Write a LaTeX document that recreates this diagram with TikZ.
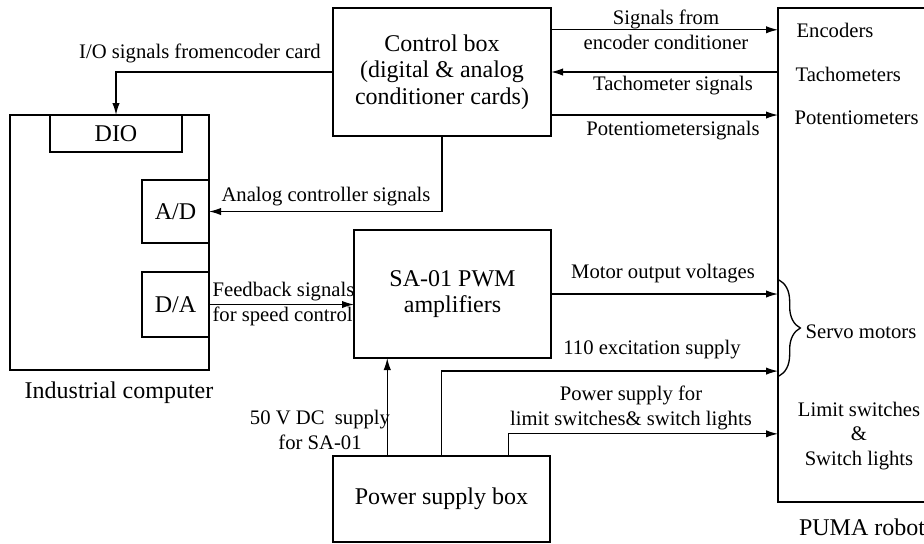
\documentclass[tikz,border=0pt]{standalone}
\usepackage{fontspec}
\setmainfont{Liberation Serif}
\usetikzlibrary{arrows.meta,calc,decorations.pathreplacing}

\newcommand{\boxfont}{\fontsize{18}{20}\selectfont}
\newcommand{\lblfont}{\fontsize{15.5}{18.5}\selectfont}

\tikzset{every picture/.style={line width=0.9pt}}
\tikzset{
  blk/.style={draw, inner sep=0pt, outer sep=0pt, anchor=north west, align=center, font=\boxfont},
  lbl/.style={inner sep=0.75pt, align=center, font=\lblfont},
  sig/.style={-{Latex[length=9pt,width=5.5pt]}},
}

\begin{document}
\begin{tikzpicture}[x=0.75pt,y=0.75pt,yscale=-1,xscale=1]
\useasboundingbox (0,0) rectangle (924,543);

%Shape: Rectangle [id:pc]
\node [blk, minimum width=149.25pt, minimum height=191.25pt] (pc) at (10,115) {};
%Shape: Rectangle [id:dio]
\node [blk, minimum width=99pt, minimum height=27.75pt] (dio) at (50,115) {DIO};
%Shape: Rectangle [id:ad]
\node [blk, minimum width=50.25pt, minimum height=47.25pt] (ad) at (142,180) {A/D};
%Shape: Rectangle [id:da]
\node [blk, minimum width=50.25pt, minimum height=48.75pt] (da) at (142,272) {D/A};
%Shape: Rectangle [id:ctrl]
\node [blk, minimum width=163.5pt, minimum height=96pt] (ctrl) at (333,8) {Control box\\(digital \& analog\\conditioner cards)};
%Shape: Rectangle [id:amp]
\node [blk, minimum width=147.75pt, minimum height=96pt] (amp) at (354,230) {SA-01 PWM\\amplifiers};
%Shape: Rectangle [id:pwr]
\node [blk, minimum width=162.75pt, minimum height=64.5pt] (pwr) at (333,456) {Power supply box};
%Shape: Rectangle [id:robot]
\node [blk, minimum width=127.5pt, minimum height=370.5pt] (robot) at (778,8) {};

% end points on the box sides
\coordinate (encOut) at ($(ctrl.north east)!0.17!(ctrl.south east)$);
\coordinate (potOut) at ($(ctrl.north east)!0.836!(ctrl.south east)$);
\coordinate (dcOut) at ($(pwr.north west)!0.25!(pwr.north east)$);
\coordinate (limOut) at ($(pwr.north west)!0.81!(pwr.north east)$);
\coordinate (excIn) at ($(robot.north west)!0.735!(robot.south west)$);
\coordinate (limIn) at ($(robot.north west)!0.862!(robot.south west)$);

%Straight Lines
\draw [sig] (ctrl.west) -| (dio.north);
\draw [sig] (ctrl.south) |- (ad.east);
\draw [sig] (da.east) -- (da.east -| amp.west);
\draw [sig] (encOut) -- (encOut -| robot.west);
\draw [sig] (ctrl.east -| robot.west) -- (ctrl.east);
\draw [sig] (potOut) -- (potOut -| robot.west);
\draw [sig] (amp.east) -- (amp.east -| robot.west);
\draw [sig] (dcOut) -- (dcOut |- amp.south);
\draw [sig] (pwr.north) |- (excIn);
\draw [sig] (limOut) |- (limIn);

%Curve Lines (brace)
\draw [line width=1pt, decorate, decoration={brace, amplitude=16pt}] (779,280) -- (779,376);

% Text Node
\node [font=\boxfont] (pcname) at (119,393) {Industrial computer};
% Text Node
\node [font=\boxfont] (robotname) at (862,527) {PUMA robot};
% Text Node
\node [lbl] (iolbl) at (200,53) {I/O signals fromencoder card};
% Text Node
\node [lbl] (anlbl) at (326,197) {Analog controller signals};
% Text Node
\node [lbl, align=left, anchor=west] (fblbl) at (211,304) {Feedback signals\\for speed control};
% Text Node
\node [lbl] (enclbl) at (666,30) {Signals from\\encoder conditioner};
% Text Node
\node [lbl] (tachlbl) at (673,86) {Tachometer signals};
% Text Node
\node [lbl] (potlbl) at (673,131) {Potentiometersignals};
% Text Node
\node [lbl] (motlbl) at (663,274) {Motor output voltages};
% Text Node
\node [lbl] (exclbl) at (652,350) {110 excitation supply};
% Text Node
\node [lbl] (limlbl) at (631,408) {Power supply for\\limit switches\& switch lights};
% Text Node
\node [lbl] (dclbl) at (320,430) {50 V DC\ \ supply\\for SA-01};
% Text Node
\node [lbl, anchor=west] (encname) at (795,30) {Encoders};
% Text Node
\node [lbl, anchor=west] (tachname) at (794,74) {Tachometers};
% Text Node
\node [lbl, anchor=west] (potname) at (793,118) {Potentiometers};
% Text Node
\node [lbl, anchor=west] (servoname) at (804,332) {Servo motors};
% Text Node
\node [lbl] (limname) at (859,436) {Limit switches\\\&\\Switch lights};

\end{tikzpicture}
\end{document}
